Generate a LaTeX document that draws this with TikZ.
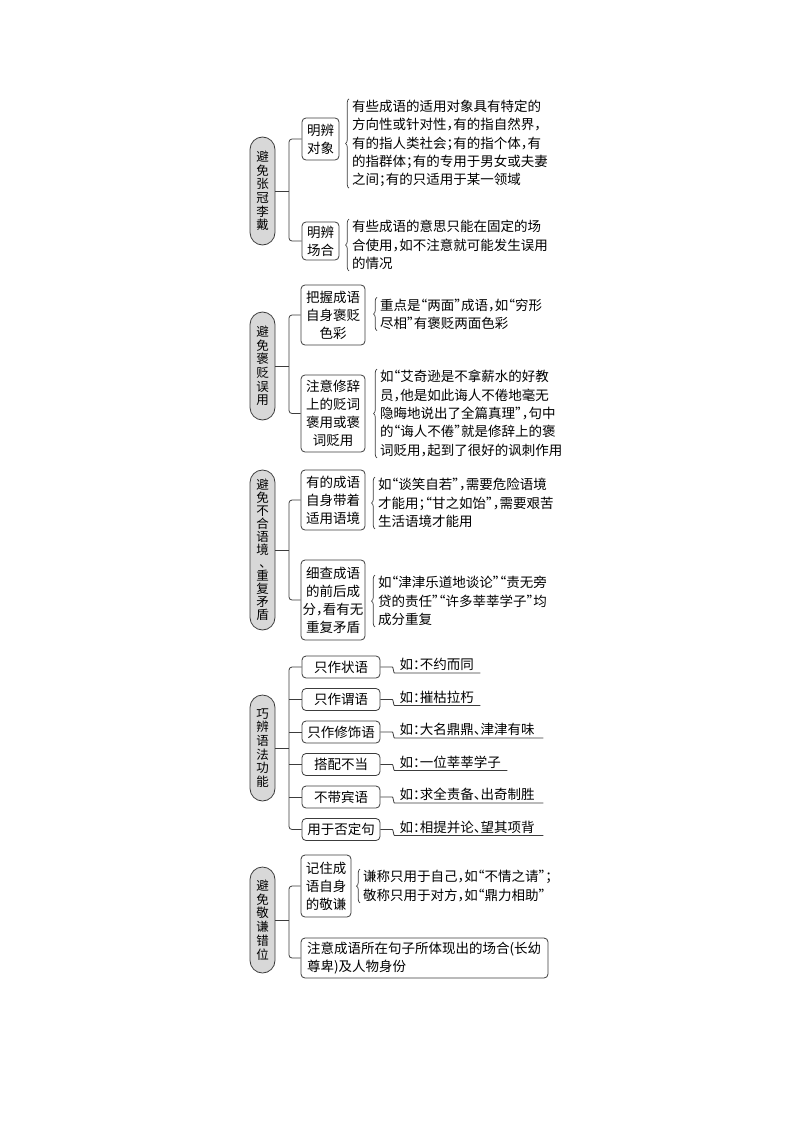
\documentclass[tikz,border=0pt]{standalone}
\usepackage{fontspec}
\setmainfont[RawFeature=+halt]{Noto Sans CJK SC}
\usetikzlibrary{decorations.pathreplacing}
\definecolor{pillfill}{RGB}{216,216,216}
\definecolor{inkgray}{RGB}{60,60,60}
\begin{document}
\begin{tikzpicture}[x=1pt,y=-1pt,
	topic node/.style={draw=inkgray,fill=pillfill,line width=0.8pt,rounded corners=12.5pt,minimum width=25pt,inner sep=0pt,align=center,font=\fontsize{12.5}{13.7}\selectfont},
	item node/.style={draw=inkgray,line width=0.8pt,rounded corners=4pt,inner sep=0pt,align=center,font=\fontsize{13.5}{18}\selectfont},
	note node/.style={anchor=west,inner sep=1pt,align=left,font=\fontsize{13.5}{18.3}\selectfont},
	example node/.style={anchor=south west,inner xsep=2pt,inner ysep=2pt,font=\fontsize{13.5}{16}\selectfont},
	branch/.style={draw=inkgray,line width=0.8pt,rounded corners=3pt},
	curly/.style={draw=inkgray,line width=0.7pt,decorate,decoration={brace,amplitude=3.5pt}}
]
	\useasboundingbox (0,0) rectangle (800,1132);

	\def \bx {289};

	% 避免张冠李戴
	\node[topic node,minimum height=108pt] (topic1) at (262.5,191) {避\\免\\张\\冠\\李\\戴};
	\coordinate (j1) at (\bx,191);
	\node[item node,minimum width=37pt,minimum height=42pt] (obj) at (320.5,139) {明辨\\对象};
	\node[item node,minimum width=37pt,minimum height=38pt] (occ) at (320.5,241) {明辨\\场合};
	\node[note node] (objnote) at (351,143.5) {有些成语的适用对象具有特定的\\方向性或针对性，有的指自然界，\\有的指人类社会；有的指个体，有\\的指群体；有的专用于男女或夫妻\\之间；有的只适用于某一领域};
	\node[note node] (occnote) at (351,245) {有些成语的意思只能在固定的场\\合使用，如不注意就可能发生误用\\的情况};
	\draw[branch] (topic1.east) -- (j1);
	\draw[branch] (obj.west) -| (j1) |- (occ.west);
	\draw[curly] ([xshift=-2pt]objnote.south west) -- ([xshift=-2pt]objnote.north west);
	\draw[curly] ([xshift=-2pt]occnote.south west) -- ([xshift=-2pt]occnote.north west);

	% 避免褒贬误用
	\node[topic node,minimum height=108pt] (topic2) at (262.5,366) {避\\免\\褒\\贬\\误\\用};
	\coordinate (j2) at (\bx,366);
	\node[item node,minimum width=64pt,minimum height=60pt] (tone) at (333,315) {把握成语\\自身褒贬\\色彩};
	\node[item node,minimum width=64pt,minimum height=77pt] (rhet) at (333,413.5) {注意修辞\\上的贬词\\褒用或褒\\词贬用};
	\node[note node] (tonenote) at (379,314) {重点是“两面”成语，如“穷形\\尽相”有褒贬两面色彩};
	\node[note node] (rhetnote) at (379,413.5) {如“艾奇逊是不拿薪水的好教\\员，他是如此诲人不倦地毫无\\隐晦地说出了全篇真理”，句中\\的“诲人不倦”就是修辞上的褒\\词贬用，起到了很好的讽刺作用};
	\draw[branch] (topic2.east) -- (j2);
	\draw[branch] (tone.west) -| (j2) |- (rhet.west);
	\draw[curly] ([xshift=-2pt]tonenote.south west) -- ([xshift=-2pt]tonenote.north west);
	\draw[curly] ([xshift=-2pt]rhetnote.south west) -- ([xshift=-2pt]rhetnote.north west);

	% 避免不合语境、重复矛盾
	\node[topic node,minimum height=160pt,font=\fontsize{12.5}{13}\selectfont] (topic3) at (262.5,550) {避\\免\\不\\合\\语\\境\\、\\重\\复\\矛\\盾};
	\coordinate (j3) at (\bx,550);
	\node[item node,minimum width=64pt,minimum height=60pt] (ctx) at (333,500) {有的成语\\自身带着\\适用语境};
	\node[item node,minimum width=64pt,minimum height=80pt] (dup) at (333,600) {细查成语\\的前后成\\分，看有无\\重复矛盾};
	\node[note node] (ctxnote) at (377,503) {如“谈笑自若”，需要危险语境\\才能用；“甘之如饴”，需要艰苦\\生活语境才能用};
	\node[note node] (dupnote) at (377,601) {如“津津乐道地谈论”“责无旁\\贷的责任”“许多莘莘学子”均\\成分重复};
	\draw[branch] (topic3.east) -- (j3);
	\draw[branch] (ctx.west) -| (j3) |- (dup.west);
	\draw[curly] ([xshift=-2pt]ctxnote.south west) -- ([xshift=-2pt]ctxnote.north west);
	\draw[curly] ([xshift=-2pt]dupnote.south west) -- ([xshift=-2pt]dupnote.north west);

	% 巧辨语法功能
	\node[topic node,minimum height=106pt] (topic4) at (262.5,748) {巧\\辨\\语\\法\\功\\能};
	\coordinate (j4) at (\bx,748);
	\foreach \i/\txt/\ex/\r in {1/只作状语/如：不约而同/480, 2/只作谓语/如：摧枯拉朽/480, 3/只作修饰语/如：大名鼎鼎、津津有味/543, 4/搭配不当/如：一位莘莘学子/507, 5/不带宾语/如：求全责备、出奇制胜/543, 6/用于否定句/如：相提并论、望其项背/543} {
		\node[item node,minimum width=78pt,minimum height=22pt] (use\i) at (341,{667+32.5*(\i-1)}) {\txt};
		\node[example node] (ex\i) at ([xshift=17pt,yshift=-6pt]use\i.east) {\ex};
		\pgfmathsetmacro\w{\r-397}
		\path (ex\i.south west) ++(\w,0) coordinate (end\i);
		\draw[branch] (use\i.east) -- ++(9,0) to[out=0,in=180] (ex\i.south west) -- (end\i);
	}
	\draw[branch] (topic4.east) -- (j4);
	\draw[branch] (use1.west) -| (j4) |- (use6.west);
	\foreach \i in {2,...,5}
		\draw[branch] (use\i.west) -- (use\i.west -| j4);

	% 避免敬谦错位
	\node[topic node,minimum height=106pt] (topic5) at (262.5,920) {避\\免\\敬\\谦\\错\\位};
	\coordinate (j5) at (\bx,920);
	\node[item node,minimum width=50pt,minimum height=62pt] (hon) at (326,886) {记住成\\语自身\\的敬谦};
	\node[item node,minimum width=247pt,minimum height=40pt,text width=235pt,align=left] (sit) at (424.5,958) {注意成语所在句子所体现出的场合(长幼\\尊卑)及人物身份};
	\node[note node] (honnote) at (362,886) {谦称只用于自己，如“不情之请”；\\敬称只用于对方，如“鼎力相助”};
	\draw[branch] (topic5.east) -- (j5);
	\draw[branch] (hon.west) -| (j5) |- (sit.west);
	\draw[curly] ([xshift=-2pt]honnote.south west) -- ([xshift=-2pt]honnote.north west);
\end{tikzpicture}
\end{document}
